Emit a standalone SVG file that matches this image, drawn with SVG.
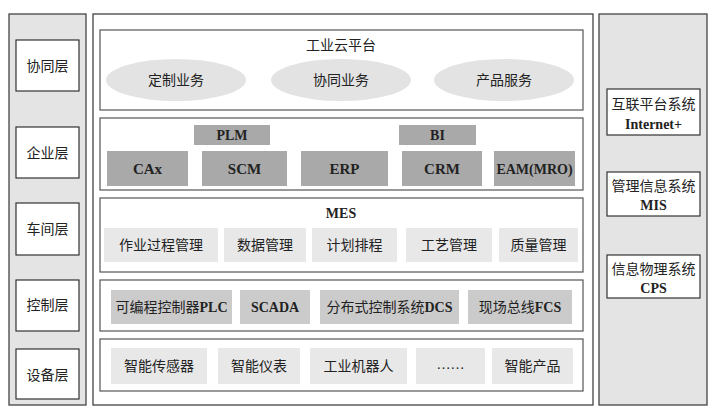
<svg xmlns="http://www.w3.org/2000/svg" width="715" height="415" viewBox="0 0 715 415">
<style>
.panel{fill:#e4e4e4;stroke:#444;stroke-width:1.3}
.main{fill:#fff;stroke:#444;stroke-width:1.3}
.layer{fill:#fff;stroke:#555;stroke-width:1.2}
.wbox{fill:#fff;stroke:#333;stroke-width:1.2}
.g1{fill:#a9a9a9}
.g2{fill:#e8e8e8}
.g3{fill:#cbcbcb}
.ell{fill:#e3e3e3}
text{font-family:"Liberation Serif","Noto Sans CJK SC",serif;fill:#222;text-anchor:middle;dominant-baseline:central}
.cn{font-size:14px}
.en{font-size:15px;font-weight:bold}
.sm{font-size:14px;font-weight:bold}
</style>
<g id="left-panel">
<rect class="panel" x="9" y="14" width="77" height="391"/>
</g>
<g id="main-panel"><rect class="main" x="93" y="14" width="500" height="391"/></g>
<g id="right-panel"><rect class="panel" x="599" y="14" width="108" height="391"/></g>

<g id="n-xietongceng"><rect class="wbox" x="16" y="40" width="63" height="51"/><text class="cn" x="47.5" y="66">协同层</text></g>
<g id="n-qiyeceng"><rect class="wbox" x="16" y="127" width="63" height="51"/><text class="cn" x="47.5" y="153">企业层</text></g>
<g id="n-chejianceng"><rect class="wbox" x="16" y="203" width="63" height="52"/><text class="cn" x="47.5" y="229">车间层</text></g>
<g id="n-kongzhiceng"><rect class="wbox" x="16" y="280" width="63" height="51"/><text class="cn" x="47.5" y="305">控制层</text></g>
<g id="n-shebeiceng"><rect class="wbox" x="16" y="349" width="63" height="50"/><text class="cn" x="47.5" y="375">设备层</text></g>

<g id="n-internet"><rect class="wbox" x="607" y="89" width="93" height="46"/><text class="cn" x="653.5" y="104">互联平台系统</text><text class="sm" x="653.5" y="124">Internet+</text></g>
<g id="n-mis"><rect class="wbox" x="607" y="172" width="93" height="44"/><text class="cn" x="653.5" y="186">管理信息系统</text><text class="sm" x="653.5" y="205">MIS</text></g>
<g id="n-cps"><rect class="wbox" x="607" y="255" width="93" height="43"/><text class="cn" x="653.5" y="269">信息物理系统</text><text class="sm" x="653.5" y="288">CPS</text></g>

<g id="layer-cloud">
<rect class="layer" x="100" y="30" width="483" height="80"/>
<text class="cn" x="341" y="45">工业云平台</text>
<g id="n-dingzhi"><ellipse class="ell" cx="176" cy="80" rx="70" ry="21"/><text class="cn" x="176" y="80">定制业务</text></g>
<g id="n-xietong"><ellipse class="ell" cx="341" cy="80" rx="70" ry="21"/><text class="cn" x="341" y="80">协同业务</text></g>
<g id="n-chanpin"><ellipse class="ell" cx="504" cy="80" rx="70" ry="21"/><text class="cn" x="504" y="80">产品服务</text></g>
</g>

<g id="layer-enterprise">
<rect class="layer" x="100" y="118" width="483" height="72"/>
<g id="n-plm"><rect class="g1" x="194" y="125" width="76" height="20"/><text class="sm" x="232" y="135">PLM</text></g>
<g id="n-bi"><rect class="g1" x="399" y="125" width="77" height="20"/><text class="sm" x="437.5" y="135">BI</text></g>
<g id="n-cax"><rect class="g1" x="107" y="151" width="81" height="35"/><text class="en" x="147.5" y="169">CAx</text></g>
<g id="n-scm"><rect class="g1" x="202" y="151" width="85" height="35"/><text class="en" x="244.5" y="169">SCM</text></g>
<g id="n-erp"><rect class="g1" x="301" y="151" width="87" height="35"/><text class="en" x="344.5" y="169">ERP</text></g>
<g id="n-crm"><rect class="g1" x="402" y="151" width="80" height="35"/><text class="en" x="442" y="169">CRM</text></g>
<g id="n-eam"><rect class="g1" x="494" y="151" width="81" height="35"/><text class="sm" x="534.5" y="169">EAM(MRO)</text></g>
</g>

<g id="layer-mes">
<rect class="layer" x="100" y="198" width="483" height="74"/>
<text class="sm" x="341" y="213">MES</text>
<g id="n-zuoye"><rect class="g2" x="104" y="228" width="114" height="34"/><text class="cn" x="161" y="245">作业过程管理</text></g>
<g id="n-shuju"><rect class="g2" x="224" y="228" width="82" height="34"/><text class="cn" x="265" y="245">数据管理</text></g>
<g id="n-jihua"><rect class="g2" x="312" y="228" width="85" height="34"/><text class="cn" x="354.5" y="245">计划排程</text></g>
<g id="n-gongyi"><rect class="g2" x="406" y="228" width="86" height="34"/><text class="cn" x="449" y="245">工艺管理</text></g>
<g id="n-zhiliang"><rect class="g2" x="499" y="228" width="79" height="34"/><text class="cn" x="538.5" y="245">质量管理</text></g>
</g>

<g id="layer-control">
<rect class="layer" x="100" y="280" width="483" height="51"/>
<g id="n-plc"><rect class="g3" x="111" y="290" width="121" height="34"/><text class="cn" x="171.5" y="307">可编程控制器<tspan font-weight="bold">PLC</tspan></text></g>
<g id="n-scada"><rect class="g3" x="240" y="290" width="70" height="34"/><text class="sm" x="275" y="307">SCADA</text></g>
<g id="n-dcs"><rect class="g3" x="320" y="290" width="139" height="34"/><text class="cn" x="389.5" y="307">分布式控制系统<tspan font-weight="bold">DCS</tspan></text></g>
<g id="n-fcs"><rect class="g3" x="468" y="290" width="104" height="34"/><text class="cn" x="520" y="307">现场总线<tspan font-weight="bold">FCS</tspan></text></g>
</g>

<g id="layer-device">
<rect class="layer" x="100" y="339" width="483" height="52"/>
<g id="n-sensor"><rect class="g2" x="111" y="348" width="96" height="36"/><text class="cn" x="159" y="366">智能传感器</text></g>
<g id="n-yibiao"><rect class="g2" x="218" y="348" width="82" height="36"/><text class="cn" x="259" y="366">智能仪表</text></g>
<g id="n-robot"><rect class="g2" x="310" y="348" width="97" height="36"/><text class="cn" x="358.5" y="366">工业机器人</text></g>
<g id="n-etc"><rect class="g2" x="416" y="348" width="69" height="36"/><text class="cn" x="450.5" y="364">……</text></g>
<g id="n-product"><rect class="g2" x="492" y="348" width="81" height="36"/><text class="cn" x="532.5" y="366">智能产品</text></g>
</g>
<g id="connectors"></g>
</svg>
